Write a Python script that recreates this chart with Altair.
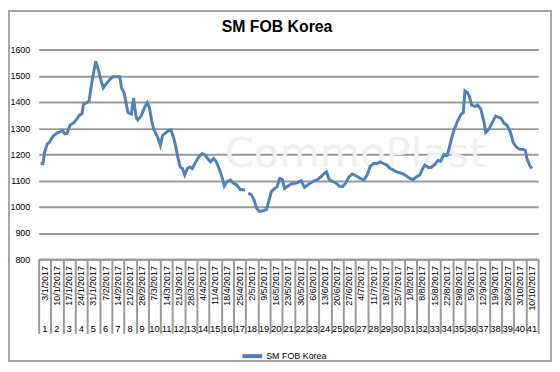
import altair as alt
import pandas as pd

# ---------------- data ----------------
chart_title = "SM FOB Korea"
series_name = "SM FOB Korea"

week_labels = [
    "3/1/2017", "10/1/2017", "17/1/2017", "24/1/2017", "31/1/2017", "7/2/2017",
    "14/2/2017", "21/2/2017", "28/2/2017", "7/3/2017", "14/3/2017", "21/3/2017",
    "28/3/2017", "4/4/2017", "11/4/2017", "18/4/2017", "25/4/2017", "2/5/2017",
    "9/5/2017", "16/5/2017", "23/5/2017", "30/5/2017", "6/6/2017", "13/6/2017",
    "20/6/2017", "27/6/2017", "4/7/2017", "11/7/2017", "18/7/2017", "25/7/2017",
    "1/8/2017", "8/8/2017", "15/8/2017", "22/8/2017", "29/8/2017", "5/9/2017",
    "12/9/2017", "19/9/2017", "26/9/2017", "3/10/2017", "10/10/2017",
]
week_numbers = list(range(1, 42))

# position of each price point along the week axis (in weeks from the start)
price_pos = [
    0.16, 0.35, 0.49, 0.71, 0.89, 1.03, 1.24, 1.52, 1.79, 1.97, 2.14, 2.33, 2.46, 2.60,
    2.87, 3.14, 3.35, 3.55, 3.68, 3.95, 4.14, 4.36, 4.68, 4.90, 5.17, 5.30, 5.58, 5.85,
    6.11, 6.39, 6.66, 6.80, 7.01, 7.20, 7.33, 7.61, 7.79, 8.01, 8.14, 8.42, 8.69, 8.91,
    9.09, 9.28, 9.44, 9.77, 9.99, 10.17, 10.58, 10.86, 11.07, 11.26, 11.39, 11.61, 11.80,
    11.99, 12.20, 12.42, 12.61, 12.89, 13.15, 13.42, 13.70, 13.88, 14.10, 14.37, 14.59,
    14.86, 15.04, 15.24, 15.45, 15.73, 15.99, 16.26, 16.54, 16.94, 17.08, 17.21, 17.48,
    17.68, 17.89, 18.11, 18.43, 18.70, 18.92, 19.10, 19.38, 19.57, 19.79, 20.00, 20.19,
    20.46, 20.73, 21.00, 21.27, 21.54, 21.82, 22.08, 22.35, 22.63, 22.90, 23.16, 23.44,
    23.63, 23.85, 24.11, 24.38, 24.66, 24.93, 25.19, 25.47, 25.74, 26.06, 26.41, 26.69,
    26.96, 27.22, 27.50, 27.77, 28.03, 28.31, 28.58, 28.85, 29.12, 29.39, 29.66, 29.94,
    30.20, 30.47, 30.75, 31.01, 31.28, 31.48, 31.69, 31.97, 32.23, 32.50, 32.78, 32.99,
    33.26, 33.53, 33.72, 33.91, 34.12, 34.40, 34.67, 34.86, 34.99, 35.21, 35.34, 35.54,
    35.81, 36.02, 36.29, 36.43, 36.56, 36.70, 36.97, 37.24, 37.51, 37.78, 37.97, 38.18,
    38.46, 38.73, 38.95, 39.21, 39.48, 39.76, 39.95, 40.08, 40.29, 40.49,
]
price_val = [
    1166, 1165, 1209, 1240, 1246, 1259, 1272, 1282, 1287, 1291, 1278, 1280, 1297, 1313,
    1320, 1335, 1350, 1354, 1391, 1397, 1404, 1473, 1555, 1523, 1473, 1454, 1471, 1486,
    1496, 1496, 1496, 1454, 1435, 1391, 1360, 1354, 1414, 1340, 1331, 1347, 1379, 1397,
    1379, 1328, 1297, 1265, 1234, 1272, 1288, 1293, 1265, 1228, 1196, 1152, 1146,
    1121, 1146, 1152, 1146, 1171, 1190, 1203, 1196, 1184, 1171, 1184, 1171,
    1140, 1114, 1079, 1095, 1102, 1090, 1083, 1066, 1064, None, 1052, 1045,
    1026, 995, 982, 985, 989, 1026, 1058, 1070, 1077, 1108, 1104, 1070,
    1079, 1087, 1089, 1092, 1099, 1074, 1083, 1092, 1099, 1104, 1114, 1127,
    1133, 1104, 1097, 1092, 1079, 1077, 1089, 1114, 1125, 1118, 1108, 1102,
    1121, 1155, 1165, 1165, 1171, 1165, 1159, 1146, 1140, 1133, 1130, 1125,
    1117, 1108, 1104, 1114, 1121, 1142, 1159, 1150, 1150, 1161, 1177, 1174,
    1200, 1196, 1228, 1265, 1297, 1328, 1353, 1360, 1442, 1435, 1423, 1388,
    1383, 1388, 1373, 1347, 1322, 1284, 1297, 1322, 1346, 1341, 1337, 1320,
    1310, 1284, 1246, 1228, 1219, 1219, 1215, 1184, 1159, 1146,
]

y_ticks = list(range(800, 1700, 100))

# ---------------- chart ----------------
W, H = 505, 212
GRID = "#9a9a9a"
BLUE = "#4F81BD"
FONT = "Liberation Sans"

line_df = pd.DataFrame({"pos": price_pos, "price": price_val, "series": series_name})
cat_df = pd.DataFrame({"week": week_numbers, "date": week_labels})
one = pd.DataFrame({"title": [chart_title]})

border = alt.Chart(one).mark_rect(filled=False, stroke="#a6a6a6", strokeWidth=2).encode(
    x=alt.value(-30), x2=alt.value(518), y=alt.value(-39), y2=alt.value(315)
)

title = alt.Chart(one).mark_text(
    font=FONT, fontSize=16, fontWeight="bold", color="#000000", align="center", baseline="alphabetic"
).encode(x=alt.value(241), y=alt.value(-18), text="title:N")

watermark = alt.Chart(one).mark_text(
    text="CommoPlast", font="DejaVu Sans", fontSize=42, color="#f0f0f0", align="center", baseline="middle"
).encode(x=alt.value(320), y=alt.value(106))

line = alt.Chart(line_df).mark_line(
    strokeWidth=3, invalid="break-paths-show-domains"
).encode(
    x=alt.X("pos:Q", scale=alt.Scale(domain=[0, 41], nice=False, zero=False), axis=None),
    y=alt.Y(
        "price:Q",
        scale=alt.Scale(domain=[800, 1600], nice=False, zero=False),
        axis=alt.Axis(
            values=y_ticks, format="d", grid=True, gridColor=GRID, gridWidth=2, ticks=False,
            domain=False, labelPadding=9, labelFontSize=9, labelFont=FONT,
            labelColor="#000000", title=None,
        ),
    ),
    color=alt.Color(
        "series:N",
        scale=alt.Scale(range=[BLUE]),
        legend=alt.Legend(
            orient="none", legendX=204, legendY=298, title=None, symbolType="stroke",
            symbolStrokeWidth=4, symbolSize=400, labelFontSize=9, labelFont=FONT,
            labelColor="#000000", labelOffset=2,
        ),
    ),
)

x_cat = alt.X(
    "week:O",
    scale=alt.Scale(type="band", paddingInner=0, paddingOuter=0),
    axis=alt.Axis(
        labels=False, ticks=True, tickBand="extent", tickSize=75, tickWidth=2, tickColor=GRID,
        domain=True, domainColor=GRID, domainWidth=2, grid=False, title=None,
    ),
)

dates = alt.Chart(cat_df).mark_text(
    angle=270, align="right", baseline="middle", fontSize=9, font=FONT, color="#000000"
).encode(x=x_cat, y=alt.value(H + 7), text="date:N")

numbers = alt.Chart(cat_df).mark_text(
    align="center", baseline="middle", fontSize=9.5, font=FONT, color="#000000"
).encode(x=x_cat, y=alt.value(H + 71), text="week:N")

cats = alt.layer(dates, numbers)

chart = alt.layer(border, title, watermark, line, cats).resolve_scale(x="independent").properties(
    width=W,
    height=H,
    autosize=alt.AutoSizeParams(type="none"),
    padding={"left": 31, "top": 40, "right": 14, "bottom": 104},
).configure_view(stroke=None)

chart.save("out.html", embed_options={"renderer": "svg", "actions": False})
